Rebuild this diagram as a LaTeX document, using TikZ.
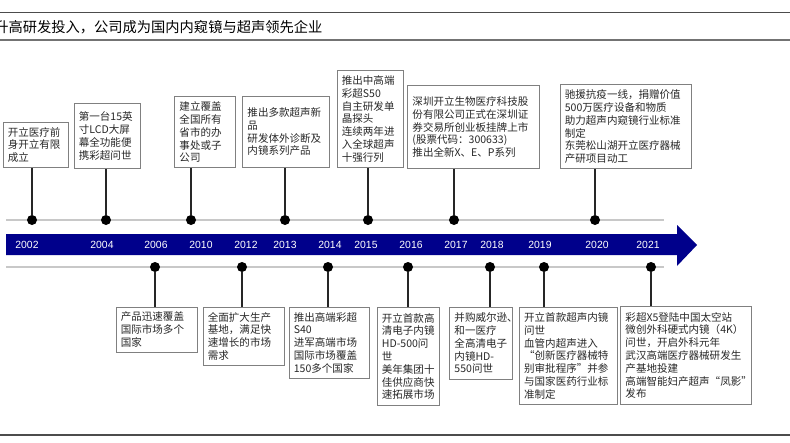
\documentclass[tikz,border=0pt]{standalone}
\usepackage{fontspec}
\setmainfont{Noto Sans CJK SC}
\newfontfamily\yearfont{Liberation Sans}

\definecolor{barblue}{RGB}{0,0,139}
\definecolor{railgray}{RGB}{200,200,200}
\definecolor{boxgray}{RGB}{128,128,128}
\definecolor{txtgray}{RGB}{40,40,40}

\tikzset{
  event/.style 2 args={draw=boxgray, line width=0.75pt, fill=white, text=txtgray,
    text width=#1, minimum height=#2, inner xsep=3.5pt, inner ysep=2pt, align=left,
    font=\fontsize{7.9pt}{9.6pt}\selectfont},
  dot/.style={circle, fill=black, inner sep=0pt, minimum size=7.5pt},
  year/.style={text=white, inner sep=0pt, font=\yearfont\fontsize{7.8pt}{9pt}\selectfont},
  stem/.style={draw=black!85, line width=1pt},
  rail/.style={draw=railgray, line width=1.5pt},
  rule/.style={draw=black!70, line width=1.1pt}
}

\begin{document}
\begin{tikzpicture}[x=0.75pt, y=-0.75pt]
   \useasboundingbox (0,0) rectangle (790,443);
   % header and footer rules
   \draw[rule] (0,12.7) -- (790,12.7);
   \draw[rule, draw=black!55] (0,40) -- (790,40);
   \draw[rule] (0,435) -- (790,435);
   \node[anchor=west, inner sep=0pt, font=\fontsize{10.7pt}{12pt}\selectfont] (title) at (-6,27)
      {升高研发投入，公司成为国内内窥镜与超声领先企业};

   % rails and arrow
   \draw[rail] (6,220) -- (664,220);
   \draw[rail] (6,267) -- (664,267);
   \fill[barblue] (6,234) -- (677,234) -- (677,225) -- (697,245) -- (677,266) -- (677,255) -- (6,255) -- cycle;

   % years
   \node[year] (y2002) at (27,245) {2002};
   \node[year] (y2004) at (102,245) {2004};
   \node[year] (y2006) at (156,245) {2006};
   \node[year] (y2010) at (201,245) {2010};
   \node[year] (y2012) at (246,245) {2012};
   \node[year] (y2013) at (285,245) {2013};
   \node[year] (y2014) at (330,245) {2014};
   \node[year] (y2015) at (366,245) {2015};
   \node[year] (y2016) at (411,245) {2016};
   \node[year] (y2017) at (456,245) {2017};
   \node[year] (y2018) at (492,245) {2018};
   \node[year] (y2019) at (540,245) {2019};
   \node[year] (y2020) at (597,245) {2020};
   \node[year] (y2021) at (648,245) {2021};

   % upper events
   \node[dot] (d2002) at (32,220) {};
   \node[dot] (d2004) at (106,220) {};
   \node[dot] (d2010) at (191,220) {};
   \node[dot] (d2013) at (285,220) {};
   \node[dot] (d2015) at (368,220) {};
   \node[dot] (d2017) at (454,220) {};
   \node[dot] (d2020) at (595,220) {};

   \node[event={41.75pt}{34.2pt}, anchor=south west] (e2002) at (2.7,168.3)
      {开立医疗前\\身开立有限\\成立};
   \node[event={42.7pt}{49.2pt}, anchor=south west] (e2004) at (73.7,169.3)
      {第一台15英\\寸LCD大屏\\幕全功能便\\携彩超问世};
   \node[event={38.3pt}{53.25pt}, anchor=south west] (e2010) at (174.3,168.3)
      {建立覆盖\\全国所有\\省市的办\\事处或子\\公司};
   \node[event={57.8pt}{53.25pt}, anchor=south west] (e2013) at (242.3,167.7)
      {推出多款超声新\\品\\研发体外诊断及\\内镜系列产品};
   \node[event={42.7pt}{73pt}, anchor=south west] (e2015) at (336.7,168)
      {推出中高端\\彩超S50\\自主研发单\\晶探头\\连续两年进\\入全球超声\\十强行列};
   \node[event={91.5pt}{62.5pt}, anchor=south west] (e2017) at (407.3,169.3)
      {深圳开立生物医疗科技股\\份有限公司正式在深圳证\\券交易所创业板挂牌上市\\(股票代码：300633)\\推出全新X、E、P系列};
   \node[event={91.3pt}{63.2pt}, anchor=south west] (e2020) at (559.7,169.3)
      {驰援抗疫一线，捐赠价值\\500万医疗设备和物质\\助力超声内窥镜行业标准\\制定\\东莞松山湖开立医疗器械\\产研项目动工};

   \draw[stem] (d2002) -- (d2002 |- e2002.south);
   \draw[stem] (d2004) -- (d2004 |- e2004.south);
   \draw[stem] (d2010) -- (d2010 |- e2010.south);
   \draw[stem] (d2013) -- (d2013 |- e2013.south);
   \draw[stem] (d2015) -- (d2015 |- e2015.south);
   \draw[stem] (d2017) -- (d2017 |- e2017.south);
   \draw[stem] (d2020) -- (d2020 |- e2020.south);

   % lower events
   \node[dot] (d2006) at (155,267) {};
   \node[dot] (d2012) at (242,267) {};
   \node[dot] (d2014) at (328,267) {};
   \node[dot] (d2016) at (408,267) {};
   \node[dot] (d2018) at (490,267) {};
   \node[dot] (d2019) at (544,267) {};
   \node[dot] (d2021) at (651,267) {};

   \node[event={53.75pt}{33.75pt}, anchor=north west] (e2006) at (115.7,306.7)
      {产品迅速覆盖\\国际市场多个\\国家};
   \node[event={53.75pt}{43.7pt}, anchor=north west] (e2012) at (202.7,306.7)
      {全面扩大生产\\基地，满足快\\速增长的市场\\需求};
   \node[event={53.5pt}{53.25pt}, anchor=north west] (e2014) at (288.7,306.7)
      {推出高端彩超\\S40\\进军高端市场\\国际市场覆盖\\150多个国家};
   \node[event={39.7pt}{73.5pt}, anchor=north west] (e2016) at (376.7,307)
      {开立首款高\\清电子内镜\\HD-500问\\世\\美年集团十\\佳供应商快\\速拓展市场};
   \node[event={40.25pt}{54.2pt}, anchor=north west] (e2018) at (449.3,306.7)
      {并购威尔逊、\\和一医疗\\全高清电子\\内镜HD-\\550问世};
   \node[event={66.3pt}{73pt}, anchor=north west] (e2019) at (519,306.7)
      {开立首款超声内镜\\问世\\血管内超声进入\\“创新医疗器械特\\别审批程序”并参\\与国家医药行业标\\准制定};
   \node[event={91pt}{73.5pt}, anchor=north west] (e2021) at (620.3,306)
      {彩超X5登陆中国太空站\\微创外科硬式内镜（4K）\\问世，开启外科元年\\武汉高端医疗器械研发生\\产基地投建\\高端智能妇产超声“凤影”\\发布};

   \draw[stem] (d2006) -- (d2006 |- e2006.north);
   \draw[stem] (d2012) -- (d2012 |- e2012.north);
   \draw[stem] (d2014) -- (d2014 |- e2014.north);
   \draw[stem] (d2016) -- (d2016 |- e2016.north);
   \draw[stem] (d2018) -- (d2018 |- e2018.north);
   \draw[stem] (d2019) -- (d2019 |- e2019.north);
   \draw[stem] (d2021) -- (d2021 |- e2021.north);
\end{tikzpicture}
\end{document}
